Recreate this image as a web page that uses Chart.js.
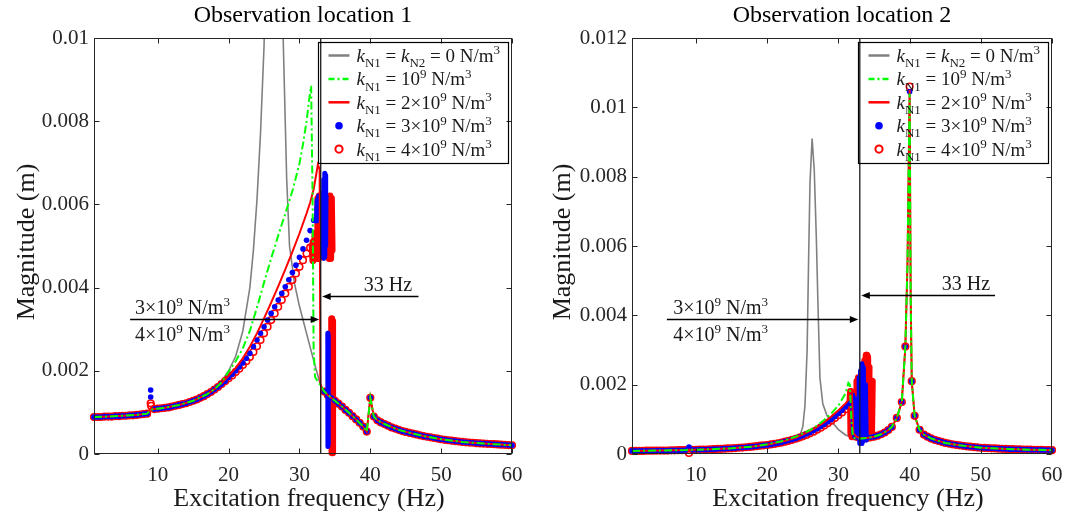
<!DOCTYPE html>
<html><head><meta charset="utf-8">
<script src="https://cdn.jsdelivr.net/npm/chart.js@4.4.1/dist/chart.umd.min.js"></script>
<style>
html,body{margin:0;padding:0;background:#fff;}
#wrap{position:relative;width:1075px;height:515px;overflow:hidden;background:#fff;}
canvas{position:absolute;top:0;}
</style></head><body>
<div id="wrap">
<canvas id="c1" width="537" height="515" style="left:0px"></canvas>
<canvas id="c2" width="538" height="515" style="left:537px"></canvas>
</div>
<script>
// ---------------- axes / labels ----------------
const xTicks = [10, 20, 30, 40, 50, 60];
const xTickLabels = ['10', '20', '30', '40', '50', '60'];
const yTicks1 = [0, 0.002, 0.004, 0.006, 0.008, 0.01];
const yTickLabels1 = ['0', '0.002', '0.004', '0.006', '0.008', '0.01'];
const yTicks2 = [0, 0.002, 0.004, 0.006, 0.008, 0.01, 0.012];
const yTickLabels2 = ['0', '0.002', '0.004', '0.006', '0.008', '0.01', '0.012'];
const titles = ['Observation location 1', 'Observation location 2'];
const xTitle = 'Excitation frequency (Hz)';
const yTitle = 'Magnitude (m)';
const legendLabels = [
  '$k$_{N1} = $k$_{N2} = 0 N/m^{3}',
  '$k$_{N1} = 10^{9} N/m^{3}',
  '$k$_{N1} = 2×10^{9} N/m^{3}',
  '$k$_{N1} = 3×10^{9} N/m^{3}',
  '$k$_{N1} = 4×10^{9} N/m^{3}'
];
const markFreq = 33;
const markLabel = '33 Hz';
const stiffLabels = ['3×10^{9} N/m^{3}', '4×10^{9} N/m^{3}'];

// ---------------- Observation location 1 ----------------
const L1_freq = [1,1.5,2,2.5,3,3.5,4,4.5,5,5.5,6,6.5,7,7.5,8,8.5,9,9.5,10,10.5,11,11.5,12,12.5,13,13.5,14,14.5,15,15.5,16,16.5,17,17.5,18,18.5,19,19.5,
 20,20.5,21,21.5,22,22.5,23,23.5,24,24.5,25,25.5,26,26.5,27,27.5,28,28.5,29,29.5,30,30.5,31,31.5,32,32.5,33,
 33.5,34,34.5,35,35.5,36,36.5,37,37.5,38,38.5,39,39.5,40,40.5,41,41.5,42,42.5,43,43.5,44,44.5,45,45.5,46,46.5,47,47.5,48,48.5,49,49.5,50,50.5,51,51.5,52,52.5,53,53.5,54,54.5,55,55.5,56,56.5,57,57.5,58,58.5,59,59.5,60];
const L1_k3 = [8.9e-4,8.9e-4,8.9e-4,9.0e-4,9.0e-4,9.0e-4,9.1e-4,9.1e-4,9.2e-4,9.2e-4,9.3e-4,9.3e-4,9.4e-4,9.5e-4,9.6e-4,9.7e-4,15.4e-4,10.8e-4,10.9e-4,11.0e-4,11.1e-4,11.2e-4,11.4e-4,11.6e-4,11.8e-4,12.0e-4,12.2e-4,12.5e-4,12.8e-4,13.1e-4,13.5e-4,13.9e-4,14.4e-4,14.9e-4,15.5e-4,16.1e-4,16.8e-4,17.5e-4,
 18.4e-4,19.2e-4,20.0e-4,20.9e-4,21.9e-4,23.0e-4,24.2e-4,25.8e-4,27.4e-4,29.0e-4,30.6e-4,32.2e-4,33.8e-4,35.4e-4,37.0e-4,38.6e-4,40.2e-4,41.9e-4,43.6e-4,45.4e-4,47.3e-4,49.3e-4,51.4e-4,53.7e-4,56.2e-4,59.0e-4,61.0e-4,
 15.0e-4,14.2e-4,13.5e-4,12.8e-4,12.1e-4,11.4e-4,10.6e-4,9.9e-4,9.1e-4,8.3e-4,7.5e-4,6.6e-4,5.4e-4,13.5e-4,9.0e-4,8.1e-4,7.6e-4,7.2e-4,6.8e-4,6.4e-4,6.1e-4,5.8e-4,5.5e-4,5.3e-4,5.1e-4,4.9e-4,4.7e-4,4.5e-4,4.3e-4,4.15e-4,4.0e-4,3.85e-4,3.7e-4,3.55e-4,3.4e-4,3.3e-4,3.2e-4,3.1e-4,3.0e-4,2.9e-4,2.8e-4,2.75e-4,2.7e-4,2.6e-4,2.55e-4,2.5e-4,2.45e-4,2.4e-4,2.35e-4,2.3e-4,2.25e-4,2.2e-4,2.15e-4,2.1e-4];
const L1_k4 = [8.9e-4,8.9e-4,8.9e-4,9.0e-4,9.0e-4,9.0e-4,9.1e-4,9.1e-4,9.2e-4,9.2e-4,9.3e-4,9.3e-4,9.4e-4,9.5e-4,9.6e-4,9.7e-4,12.2e-4,10.8e-4,10.9e-4,11.0e-4,11.1e-4,11.2e-4,11.4e-4,11.6e-4,11.8e-4,12.0e-4,12.2e-4,12.5e-4,12.8e-4,13.1e-4,13.5e-4,13.9e-4,14.4e-4,14.9e-4,15.5e-4,16.1e-4,16.8e-4,17.5e-4,
 18.2e-4,18.9e-4,19.7e-4,20.5e-4,21.4e-4,22.3e-4,23.3e-4,24.5e-4,25.9e-4,27.4e-4,29.0e-4,30.6e-4,32.2e-4,33.8e-4,35.4e-4,37.0e-4,38.6e-4,40.2e-4,41.8e-4,43.4e-4,45.0e-4,46.6e-4,48.2e-4,49.6e-4,50.8e-4,52.0e-4,53.0e-4,
 15.0e-4,14.2e-4,13.5e-4,12.8e-4,12.1e-4,11.4e-4,10.6e-4,9.9e-4,9.1e-4,8.3e-4,7.5e-4,6.6e-4,5.4e-4,13.5e-4,9.0e-4,8.1e-4,7.6e-4,7.2e-4,6.8e-4,6.4e-4,6.1e-4,5.8e-4,5.5e-4,5.3e-4,5.1e-4,4.9e-4,4.7e-4,4.5e-4,4.3e-4,4.15e-4,4.0e-4,3.85e-4,3.7e-4,3.55e-4,3.4e-4,3.3e-4,3.2e-4,3.1e-4,3.0e-4,2.9e-4,2.8e-4,2.75e-4,2.7e-4,2.6e-4,2.55e-4,2.5e-4,2.45e-4,2.4e-4,2.35e-4,2.3e-4,2.25e-4,2.2e-4,2.15e-4,2.1e-4];
const L1_k0_f = [1,3,5,7,8.5,9.5,11,13,15,17,18,19,20,21,22,23,23.5,24,24.5,25,25.5,26,26.4,26.8,27.2,27.7,28.2,28.6,29.3,30,31,32,32.9,33.6,34,35,36,37,38,39,39.5,40,40.5,41,42,44,46,48,50,53,56,60];
const L1_k0_m = [8.9e-4,9.0e-4,9.2e-4,9.4e-4,9.7e-4,10.8e-4,11.1e-4,11.8e-4,12.8e-4,14.4e-4,15.6e-4,17.5e-4,20.0e-4,23.5e-4,29.5e-4,40e-4,49e-4,61e-4,77e-4,98e-4,135e-4,210e-4,300e-4,220e-4,150e-4,100e-4,66e-4,50e-4,41e-4,35.5e-4,29e-4,22.5e-4,17e-4,14.7e-4,14.2e-4,12.8e-4,11.4e-4,9.9e-4,8.3e-4,6.6e-4,5.4e-4,13.5e-4,9.0e-4,8.1e-4,7.2e-4,5.8e-4,4.9e-4,4.15e-4,3.55e-4,2.9e-4,2.5e-4,2.1e-4];
const L1_k1_f = [1,3,5,7,8.5,9,9.5,11,13,15,17,18,19,20,21,22,23,24,25,26,27,28,29,30,30.5,31,31.5,31.65,31.85,32.0,32.2,32.6,33,33.5,34,35,36,37,38,39,39.5,40,40.5,41,42,44,46,48,50,53,56,60];
const L1_k1_m = [8.9e-4,9.0e-4,9.2e-4,9.4e-4,9.7e-4,10.6e-4,10.8e-4,11.1e-4,11.8e-4,12.8e-4,14.4e-4,15.6e-4,17.2e-4,19.8e-4,22.3e-4,25.4e-4,29.6e-4,35.2e-4,41.2e-4,47.0e-4,52.5e-4,57.8e-4,63.2e-4,69.8e-4,74.5e-4,80.0e-4,87.0e-4,88.5e-4,62e-4,25e-4,18.5e-4,17.4e-4,16.5e-4,15.0e-4,14.2e-4,12.8e-4,11.4e-4,9.9e-4,8.3e-4,6.6e-4,5.4e-4,13.5e-4,9.0e-4,8.1e-4,7.2e-4,5.8e-4,4.9e-4,4.15e-4,3.55e-4,2.9e-4,2.5e-4,2.1e-4];
const L1_k2_f = [1,3,5,7,8.5,9,9.5,11,13,15,17,18,19,20,21,22,23,24,25,26,27,28,29,30,31,31.5,32,32.6,32.85,32.95,33.1,33.5,34,35,36,37,38,39,39.5,40,40.5,41,42,44,46,48,50,53,56,60];
const L1_k2_m = [8.9e-4,9.0e-4,9.2e-4,9.4e-4,9.7e-4,11.0e-4,10.8e-4,11.1e-4,11.8e-4,12.8e-4,14.4e-4,15.6e-4,17.0e-4,18.8e-4,20.7e-4,23.0e-4,25.8e-4,29.0e-4,32.6e-4,36.4e-4,40.3e-4,44.4e-4,48.6e-4,53.0e-4,57.8e-4,60.4e-4,63.6e-4,69.5e-4,68.5e-4,17.0e-4,16.0e-4,15.0e-4,14.2e-4,12.8e-4,11.4e-4,9.9e-4,8.3e-4,6.6e-4,5.4e-4,13.5e-4,9.0e-4,8.1e-4,7.2e-4,5.8e-4,4.9e-4,4.15e-4,3.55e-4,2.9e-4,2.5e-4,2.1e-4];
// scattered / jumping responses (3e9 and 4e9)
const L1_k3_extra_f = [9.0];
const L1_k3_extra_m = [13.7e-4];
const L1_k4_extra_f = [9.05];
const L1_k4_extra_m = [11.6e-4];
const L1_k3_jumpA_f = [32.4,32.5,32.6,32.7,32.8,32.9,33.0];
const L1_k3_jumpA_m = [56e-4,61e-4,57e-4,62e-4,58e-4,61e-4,56e-4];
const L1_k3_jumpB_f = [33.3,33.35,33.4,33.45,33.5,33.55,33.6,33.65,33.7,33.75];
const L1_k3_jumpB_m = [48e-4,63e-4,47e-4,66e-4,47.5e-4,67.5e-4,48e-4,67e-4,50e-4,62e-4];
const L1_k3_jumpC_f = [34.0,34.02,34.04,34.06];
const L1_k3_jumpC_m = [29e-4,1.8e-4,28.5e-4,2.2e-4];
const L1_k4_jumpA_f = [31.8,31.9,32.0,32.1,32.2,32.3];
const L1_k4_jumpA_m = [50e-4,46.5e-4,51e-4,47e-4,53e-4,48e-4];
const L1_k4_jumpB_f = [32.5,32.6,32.7,32.8,32.9,33.0,33.1,33.3,33.5,33.7,33.9,34.1];
const L1_k4_jumpB_m = [47e-4,61.5e-4,47e-4,62e-4,48e-4,60e-4,49e-4,55e-4,50e-4,54e-4,49e-4,52e-4];
const L1_k4_jumpC_f = [34.2,34.3,34.4,34.5,34.6];
const L1_k4_jumpC_m = [47e-4,62e-4,47e-4,61.5e-4,49e-4];
const L1_k4_jumpD_f = [34.55,34.6,34.65,34.7];
const L1_k4_jumpD_m = [32.5e-4,0.3e-4,32e-4,0.5e-4];

// ---------------- Observation location 2 ----------------
const L2_freq = [1,1.5,2,2.5,3,3.5,4,4.5,5,5.5,6,6.5,7,7.5,8,8.5,9,9.5,10,10.5,11,11.5,12,12.5,13,13.5,14,14.5,15,15.5,16,16.5,17,17.5,18,18.5,19,19.5,
 20,20.5,21,21.5,22,22.5,23,23.5,24,24.5,25,25.5,26,26.5,27,27.5,28,28.5,29,29.5,30,30.5,31,31.5,32,32.5,33,33.5,34,34.5,35,35.5,36,36.5,37,37.5,
 38.2,38.9,39.4,40,40.3,40.7,41.4,
 42,42.5,43,43.5,44,44.5,45,45.5,46,46.5,47,47.5,48,48.5,49,49.5,50,50.5,51,51.5,52,52.5,53,53.5,54,54.5,55,55.5,56,56.5,57,57.5,58,58.5,59,59.5,60];
const L2_k3 = [0.9e-4,0.9e-4,0.9e-4,0.9e-4,0.95e-4,0.95e-4,0.95e-4,1.0e-4,1.0e-4,1.0e-4,1.0e-4,1.05e-4,1.05e-4,1.1e-4,1.1e-4,1.15e-4,2.0e-4,1.2e-4,1.2e-4,1.25e-4,1.3e-4,1.3e-4,1.35e-4,1.4e-4,1.45e-4,1.5e-4,1.55e-4,1.6e-4,1.65e-4,1.7e-4,1.8e-4,1.85e-4,1.95e-4,2.05e-4,2.15e-4,2.25e-4,2.4e-4,2.5e-4,
 2.6e-4,2.75e-4,2.95e-4,3.15e-4,3.35e-4,3.6e-4,3.9e-4,4.2e-4,4.5e-4,4.9e-4,5.3e-4,5.75e-4,6.2e-4,6.75e-4,7.3e-4,7.9e-4,8.6e-4,9.3e-4,10.0e-4,10.8e-4,11.7e-4,12.6e-4,13.6e-4,14.6e-4,16.0e-4,5.0e-4,4.6e-4,4.5e-4,4.6e-4,4.8e-4,5.0e-4,5.3e-4,5.7e-4,6.2e-4,6.9e-4,7.8e-4,
 10.4e-4,15.0e-4,31e-4,104.5e-4,21e-4,11e-4,7.0e-4,
 5.6e-4,5.0e-4,4.5e-4,4.1e-4,3.8e-4,3.5e-4,3.2e-4,3.0e-4,2.8e-4,2.65e-4,2.5e-4,2.35e-4,2.2e-4,2.1e-4,2.0e-4,1.9e-4,1.8e-4,1.75e-4,1.7e-4,1.65e-4,1.6e-4,1.55e-4,1.5e-4,1.45e-4,1.4e-4,1.38e-4,1.35e-4,1.32e-4,1.3e-4,1.27e-4,1.25e-4,1.22e-4,1.2e-4,1.18e-4,1.15e-4,1.12e-4,1.1e-4];
const L2_k4 = [0.9e-4,0.9e-4,0.9e-4,0.9e-4,0.95e-4,0.95e-4,0.95e-4,1.0e-4,1.0e-4,1.0e-4,1.0e-4,1.05e-4,1.05e-4,1.1e-4,1.1e-4,1.15e-4,0.3e-4,1.2e-4,1.2e-4,1.25e-4,1.3e-4,1.3e-4,1.35e-4,1.4e-4,1.45e-4,1.5e-4,1.55e-4,1.6e-4,1.65e-4,1.7e-4,1.8e-4,1.85e-4,1.95e-4,2.05e-4,2.15e-4,2.25e-4,2.4e-4,2.5e-4,
 2.6e-4,2.75e-4,2.9e-4,3.1e-4,3.3e-4,3.55e-4,3.8e-4,4.1e-4,4.4e-4,4.75e-4,5.1e-4,5.5e-4,5.95e-4,6.45e-4,7.0e-4,7.6e-4,8.2e-4,8.9e-4,9.6e-4,10.4e-4,11.2e-4,12.0e-4,12.9e-4,13.8e-4,5.5e-4,5.0e-4,4.6e-4,4.5e-4,4.6e-4,4.8e-4,5.0e-4,5.3e-4,5.7e-4,6.2e-4,6.9e-4,7.8e-4,
 10.4e-4,15.0e-4,31e-4,106e-4,21e-4,11e-4,7.0e-4,
 5.6e-4,5.0e-4,4.5e-4,4.1e-4,3.8e-4,3.5e-4,3.2e-4,3.0e-4,2.8e-4,2.65e-4,2.5e-4,2.35e-4,2.2e-4,2.1e-4,2.0e-4,1.9e-4,1.8e-4,1.75e-4,1.7e-4,1.65e-4,1.6e-4,1.55e-4,1.5e-4,1.45e-4,1.4e-4,1.38e-4,1.35e-4,1.32e-4,1.3e-4,1.27e-4,1.25e-4,1.22e-4,1.2e-4,1.18e-4,1.15e-4,1.12e-4,1.1e-4];
const L2_k0_f = [1,5,9,12,15,18,20,22,23,24,24.6,25.0,25.3,25.6,25.8,26.0,26.3,26.6,26.9,27.1,27.4,27.8,28.4,29.2,30,31,31.6,32,33,34,35,36,37,37.5,38.2,38.9,39.4,39.7,40.0,40.15,40.3,40.7,41.4,42,43,44,45,47,50,53,56,60];
const L2_k0_m = [0.9e-4,1.0e-4,1.15e-4,1.35e-4,1.65e-4,2.15e-4,2.7e-4,3.5e-4,4.1e-4,4.6e-4,5.3e-4,8.0e-4,14e-4,30e-4,55e-4,78e-4,91e-4,82e-4,62e-4,45e-4,22e-4,14.5e-4,11e-4,9e-4,7e-4,5.5e-4,5.0e-4,4.6e-4,4.2e-4,4.4e-4,5.0e-4,5.7e-4,6.9e-4,7.8e-4,10.4e-4,15.0e-4,31e-4,55e-4,104e-4,45e-4,21e-4,11e-4,7.0e-4,5.6e-4,4.5e-4,3.8e-4,3.2e-4,2.5e-4,1.8e-4,1.5e-4,1.3e-4,1.1e-4];
const L2_k1_f = [1,5,8.5,9,9.5,12,15,18,20,22,24,26,27,28,29,30,31,31.4,31.6,31.8,32.0,32.2,33,34,35,36,37,37.5,38.2,38.9,39.4,39.7,40.0,40.15,40.3,40.7,41.4,42,43,44,45,47,50,53,56,60];
const L2_k1_m = [0.9e-4,1.0e-4,1.15e-4,1.3e-4,1.2e-4,1.35e-4,1.65e-4,2.15e-4,2.8e-4,3.7e-4,5.0e-4,6.9e-4,8.2e-4,9.8e-4,11.7e-4,14.0e-4,17.5e-4,20.5e-4,20.0e-4,11e-4,5.5e-4,4.6e-4,4.4e-4,4.6e-4,5.0e-4,5.7e-4,6.9e-4,7.8e-4,10.4e-4,15.0e-4,31e-4,55e-4,104e-4,45e-4,21e-4,11e-4,7.0e-4,5.6e-4,4.5e-4,3.8e-4,3.2e-4,2.5e-4,1.8e-4,1.5e-4,1.3e-4,1.1e-4];
const L2_k2_f = [1,5,8.5,9,9.5,12,15,18,20,22,24,26,27,28,29,30,31,31.5,31.9,32.1,32.5,33,34,35,36,37,37.5,38.2,38.9,39.4,39.7,40.0,40.15,40.3,40.7,41.4,42,43,44,45,47,50,53,56,60];
const L2_k2_m = [0.9e-4,1.0e-4,1.15e-4,1.2e-4,1.2e-4,1.35e-4,1.65e-4,2.15e-4,2.7e-4,3.5e-4,4.7e-4,6.6e-4,7.8e-4,9.2e-4,10.8e-4,12.6e-4,14.6e-4,15.8e-4,17.2e-4,6.0e-4,5.0e-4,4.6e-4,4.6e-4,5.0e-4,5.7e-4,6.9e-4,7.8e-4,10.4e-4,15.0e-4,31e-4,55e-4,105e-4,45e-4,21e-4,11e-4,7.0e-4,5.6e-4,4.5e-4,3.8e-4,3.2e-4,2.5e-4,1.8e-4,1.5e-4,1.3e-4,1.1e-4];
const L2_k3_jumpA_f = [32.0,32.1,32.2,32.3,32.4];
const L2_k3_jumpA_m = [17e-4,6e-4,16e-4,5e-4,14e-4];
const L2_k3_jumpB_f = [32.9,33.0,33.1,33.2,33.3,33.4,33.5,33.6];
const L2_k3_jumpB_m = [22e-4,3e-4,24e-4,3e-4,26e-4,3.5e-4,25e-4,4e-4];
const L2_k3_jumpC_f = [33.8,33.9];
const L2_k3_jumpC_m = [20e-4,4e-4];
const L2_k4_jumpA_f = [31.6,31.7,31.75,31.85,31.9,32.0];
const L2_k4_jumpA_m = [14e-4,18e-4,6e-4,17e-4,5e-4,15e-4];
const L2_k4_jumpB_f = [32.5,32.6,32.7,32.8,32.9,33.0];
const L2_k4_jumpB_m = [5e-4,21e-4,5e-4,22e-4,6e-4,20e-4];
const L2_k4_jumpC_f = [33.6,33.7,33.8,33.9,34.0,34.1,34.2,34.3];
const L2_k4_jumpC_m = [6e-4,27e-4,5e-4,28.5e-4,5e-4,28e-4,6e-4,25e-4];
const L2_k4_jumpD_f = [34.45,34.55,34.65,34.75];
const L2_k4_jumpD_m = [6e-4,20e-4,6e-4,21e-4];

// ---------------- styling ----------------
const FONT = '"Liberation Serif", "Times New Roman", serif';
const AXIS = '#262626';
const C_GRAY = '#808080', C_GREEN = '#00ff00', C_RED = '#ff0000', C_BLUE = '#0000ff';

const pts = (f, m) => f.map((x, i) => ({ x: x, y: m[i] }));

function lineDS(f, m, color, dash, w) {
  return { data: pts(f, m), showLine: true, borderColor: color, borderWidth: w || 2, borderDash: dash || [],
    pointRadius: 0, fill: false, tension: 0 };
}
function blueDS(f, m) {
  return { data: pts(f, m), showLine: false, pointRadius: 2.8, pointStyle: 'circle',
    pointBackgroundColor: C_BLUE, pointBorderWidth: 0, backgroundColor: C_BLUE, clip: 8 };
}
function circDS(f, m) {
  return { data: pts(f, m), showLine: false, pointRadius: 3.3, pointStyle: 'circle',
    pointBackgroundColor: 'rgba(0,0,0,0)', pointBorderColor: C_RED, pointBorderWidth: 1.6, clip: 8 };
}
function jumpDS(f, m, color, w) {
  return { data: pts(f, m), showLine: true, borderColor: color, borderWidth: w, pointRadius: 0,
    borderCapStyle: 'round', borderJoinStyle: 'round', tension: 0, clip: 8 };
}
function vlineDS(yMax) {
  return { data: [{ x: markFreq, y: 0 }, { x: markFreq, y: yMax }], showLine: true, borderColor: '#1a1a1a',
    borderWidth: 1.3, pointRadius: 0 };
}

// ---------------- rich text ----------------
function parseRich(s) {
  const segs = []; let i = 0, buf = '', mode = 'n';
  const push = () => { if (buf) { segs.push({ t: buf, m: mode }); buf = ''; } };
  while (i < s.length) {
    const c = s[i];
    if (c === '$') { push(); mode = (mode === 'i') ? 'n' : 'i'; i++; continue; }
    if ((c === '_' || c === '^') && s[i + 1] === '{') {
      push(); const j = s.indexOf('}', i);
      segs.push({ t: s.slice(i + 2, j), m: c === '_' ? 'sub' : 'sup' }); i = j + 1; continue;
    }
    buf += c; i++;
  }
  push(); return segs;
}
function richFont(m, size) {
  const small = (m === 'sub' || m === 'sup');
  return (m === 'i' ? 'italic ' : '') + (small ? Math.round(size * 0.66) : size) + 'px ' + FONT;
}
function richWidth(ctx, str, size) {
  let w = 0; for (const s of parseRich(str)) { ctx.font = richFont(s.m, size); w += ctx.measureText(s.t).width; }
  return w;
}
function drawRich(ctx, str, x, y, size, align) {
  const segs = parseRich(str);
  const w = richWidth(ctx, str, size);
  let cx = align === 'right' ? x - w : (align === 'center' ? x - w / 2 : x);
  ctx.textAlign = 'left'; ctx.textBaseline = 'alphabetic';
  for (const s of segs) {
    ctx.font = richFont(s.m, size);
    const dy = s.m === 'sub' ? size * 0.27 : (s.m === 'sup' ? -size * 0.40 : 0);
    ctx.fillText(s.t, cx, y + dy);
    cx += ctx.measureText(s.t).width;
  }
  return w;
}

// ---------------- decoration plugin ----------------
function decoPlugin(o) {
  return {
    id: 'deco' + o.idx,
    afterDraw(chart) {
      const ctx = chart.ctx, a = chart.chartArea, xs = chart.scales.x, ys = chart.scales.y;
      ctx.save();
      // frame with inward ticks
      const L = Math.round(a.left) + 0.5, R = Math.round(a.right) - 0.5;
      const T = Math.round(a.top) + 0.5, B = Math.round(a.bottom) - 0.5;
      ctx.strokeStyle = AXIS; ctx.lineWidth = 1;
      ctx.strokeRect(L, T, R - L, B - T);
      ctx.beginPath();
      xTicks.forEach(v => { const px = Math.round(xs.getPixelForValue(v)) + 0.5;
        ctx.moveTo(px, B); ctx.lineTo(px, B - 5); ctx.moveTo(px, T); ctx.lineTo(px, T + 5); });
      o.yTicks.forEach(v => { const py = Math.round(ys.getPixelForValue(v)) + 0.5;
        ctx.moveTo(L, py); ctx.lineTo(L + 5, py); ctx.moveTo(R, py); ctx.lineTo(R - 5, py); });
      ctx.stroke();

      // annotations (arrows + text)
      ctx.fillStyle = '#000'; ctx.strokeStyle = '#000'; ctx.lineWidth = 1.3;
      const xv = xs.getPixelForValue(markFreq);
      const yr = Math.round(ys.getPixelForValue(o.rightArrowY)) + 0.5;
      const xr = xs.getPixelForValue(o.rightArrowFrom);
      ctx.beginPath(); ctx.moveTo(xr, yr); ctx.lineTo(xv + 8, yr); ctx.stroke();
      ctx.beginPath(); ctx.moveTo(xv + 1.5, yr); ctx.lineTo(xv + 10, yr - 3.5); ctx.lineTo(xv + 10, yr + 3.5); ctx.closePath(); ctx.fill();
      const yl = Math.round(ys.getPixelForValue(o.leftArrowY)) + 0.5;
      const xl = xs.getPixelForValue(o.leftArrowFrom);
      ctx.beginPath(); ctx.moveTo(xl, yl); ctx.lineTo(xv - 8, yl); ctx.stroke();
      ctx.beginPath(); ctx.moveTo(xv - 1.5, yl); ctx.lineTo(xv - 10, yl - 3.5); ctx.lineTo(xv - 10, yl + 3.5); ctx.closePath(); ctx.fill();
      ctx.fillStyle = '#1a1a1a';
      drawRich(ctx, markLabel, xs.getPixelForValue(o.markTextRight), yr - 6, 20, 'right');
      const xt = xs.getPixelForValue(o.stiffTextLeft);
      drawRich(ctx, stiffLabels[0], xt, yl - 6, 20, 'left');
      drawRich(ctx, stiffLabels[1], xt, yl + 21, 20, 'left');

      // legend (transparent box)
      const LS = 19;
      let tw = 0; legendLabels.forEach(s => { tw = Math.max(tw, richWidth(ctx, s, LS)); });
      const bw = Math.round(38 + tw + 8), bh = 121;
      const bx = Math.round(a.right - 4 - bw) + 0.5, by = Math.round(a.top + 4) + 0.5;
      ctx.strokeStyle = '#000'; ctx.lineWidth = 1.2; ctx.strokeRect(bx, by, bw, bh);
      for (let i = 0; i < 5; i++) {
        const cy = by + 13 + i * 23.4;
        const sx0 = bx + 10, sx1 = bx + 31, scx = bx + 20.5;
        ctx.setLineDash([]);
        if (i === 0) { ctx.strokeStyle = C_GRAY; ctx.lineWidth = 2.5; ctx.beginPath(); ctx.moveTo(sx0, cy); ctx.lineTo(sx1, cy); ctx.stroke(); }
        if (i === 1) { ctx.strokeStyle = C_GREEN; ctx.lineWidth = 2.5; ctx.setLineDash([6, 3, 2, 3]); ctx.beginPath(); ctx.moveTo(sx0, cy); ctx.lineTo(sx1 + 1, cy); ctx.stroke(); ctx.setLineDash([]); }
        if (i === 2) { ctx.strokeStyle = C_RED; ctx.lineWidth = 2.5; ctx.beginPath(); ctx.moveTo(sx0, cy); ctx.lineTo(sx1, cy); ctx.stroke(); }
        if (i === 3) { ctx.fillStyle = C_BLUE; ctx.beginPath(); ctx.arc(scx, cy, 3.8, 0, Math.PI * 2); ctx.fill(); }
        if (i === 4) { ctx.strokeStyle = C_RED; ctx.lineWidth = 2; ctx.beginPath(); ctx.arc(scx, cy, 3.6, 0, Math.PI * 2); ctx.stroke(); }
        ctx.fillStyle = '#1a1a1a';
        drawRich(ctx, legendLabels[i], bx + 38, cy + 6.5, LS, 'left');
      }

      // titles
      const cxp = (a.left + a.right) / 2;
      ctx.fillStyle = '#000';
      ctx.font = '24px ' + FONT; ctx.textAlign = 'center'; ctx.textBaseline = 'alphabetic';
      ctx.fillText(titles[o.idx], cxp, 22);
      ctx.fillStyle = '#1a1a1a';
      ctx.font = '26px ' + FONT;
      ctx.fillText(xTitle, cxp + 6, 506);
      ctx.save();
      ctx.translate(o.yTitleX, (a.top + a.bottom) / 2 - 4);
      ctx.rotate(-Math.PI / 2);
      ctx.textBaseline = 'middle'; ctx.textAlign = 'center';
      ctx.fillText(yTitle, 0, 0);
      ctx.restore();
      ctx.restore();
    }
  };
}

function buildChart(id, o) {
  return new Chart(document.getElementById(id), {
    type: 'scatter',
    data: { datasets: o.datasets },
    options: {
      responsive: false, animation: false, devicePixelRatio: 1, events: [],
      layout: { padding: { left: 0, top: 38, right: o.padRight, bottom: 0 } },
      plugins: { legend: { display: false }, tooltip: { enabled: false }, title: { display: false } },
      scales: {
        x: {
          type: 'linear', min: 1, max: 60,
          afterBuildTicks: s => { s.ticks = xTicks.map(v => ({ value: v })); },
          afterFit: s => { s.height = 61; },
          grid: { display: false, drawTicks: false }, border: { display: false },
          ticks: { font: { family: FONT, size: 21 }, color: AXIS, padding: 9, maxRotation: 0, autoSkip: false,
            callback: (v, i) => xTickLabels[i] }
        },
        y: {
          type: 'linear', min: 0, max: o.yMax,
          afterBuildTicks: s => { s.ticks = o.yTicks.map(v => ({ value: v })); },
          afterFit: s => { s.width = o.yWidth; },
          grid: { display: false, drawTicks: false }, border: { display: false },
          ticks: { font: { family: FONT, size: 21 }, color: AXIS, padding: 5, autoSkip: false,
            callback: (v, i) => o.yLabels[i] }
        }
      }
    },
    plugins: [decoPlugin(o)]
  });
}

// datasets: first in list is drawn on top
const ds1 = [
  vlineDS(0.01),
  lineDS(L1_k1_f, L1_k1_m, C_GREEN, [8, 3, 2, 3]),
  lineDS(L1_k2_f, L1_k2_m, C_RED),
  jumpDS(L1_k3_jumpA_f, L1_k3_jumpA_m, C_BLUE, 5),
  jumpDS(L1_k3_jumpB_f, L1_k3_jumpB_m, C_BLUE, 5),
  jumpDS(L1_k3_jumpC_f, L1_k3_jumpC_m, C_BLUE, 5),
  blueDS(L1_k3_extra_f, L1_k3_extra_m),
  blueDS(L1_freq, L1_k3),
  jumpDS(L1_k4_jumpA_f, L1_k4_jumpA_m, C_RED, 7),
  jumpDS(L1_k4_jumpB_f, L1_k4_jumpB_m, C_RED, 7),
  jumpDS(L1_k4_jumpC_f, L1_k4_jumpC_m, C_RED, 7),
  jumpDS(L1_k4_jumpD_f, L1_k4_jumpD_m, C_RED, 7),
  circDS(L1_k4_extra_f, L1_k4_extra_m),
  circDS(L1_freq, L1_k4),
  lineDS(L1_k0_f, L1_k0_m, C_GRAY, [], 1.6)
];
const ds2 = [
  vlineDS(0.012),
  lineDS(L2_k1_f, L2_k1_m, C_GREEN, [8, 3, 2, 3]),
  lineDS(L2_k2_f, L2_k2_m, C_RED),
  jumpDS(L2_k3_jumpA_f, L2_k3_jumpA_m, C_BLUE, 5),
  jumpDS(L2_k3_jumpB_f, L2_k3_jumpB_m, C_BLUE, 5),
  jumpDS(L2_k3_jumpC_f, L2_k3_jumpC_m, C_BLUE, 5),
  blueDS(L2_freq, L2_k3),
  jumpDS(L2_k4_jumpA_f, L2_k4_jumpA_m, C_RED, 7),
  jumpDS(L2_k4_jumpB_f, L2_k4_jumpB_m, C_RED, 7),
  jumpDS(L2_k4_jumpC_f, L2_k4_jumpC_m, C_RED, 7),
  jumpDS(L2_k4_jumpD_f, L2_k4_jumpD_m, C_RED, 7),
  circDS(L2_freq, L2_k4),
  lineDS(L2_k0_f, L2_k0_m, C_GRAY, [], 1.6)
];

buildChart('c1', { idx: 0, datasets: ds1, yMax: 0.01, yTicks: yTicks1, yLabels: yTickLabels1, yWidth: 94, padRight: 25,
  rightArrowY: 0.0038, rightArrowFrom: 46.8, markTextRight: 45.9,
  leftArrowY: 0.00325, leftArrowFrom: 6.1, stiffTextLeft: 6.8, yTitleX: 27 });
buildChart('c2', { idx: 1, datasets: ds2, yMax: 0.012, yTicks: yTicks2, yLabels: yTickLabels2, yWidth: 95, padRight: 23,
  rightArrowY: 0.00459, rightArrowFrom: 52, markTextRight: 51.3,
  leftArrowY: 0.0039, leftArrowFrom: 5.9, stiffTextLeft: 6.8, yTitleX: 26 });
</script>
</body></html>
